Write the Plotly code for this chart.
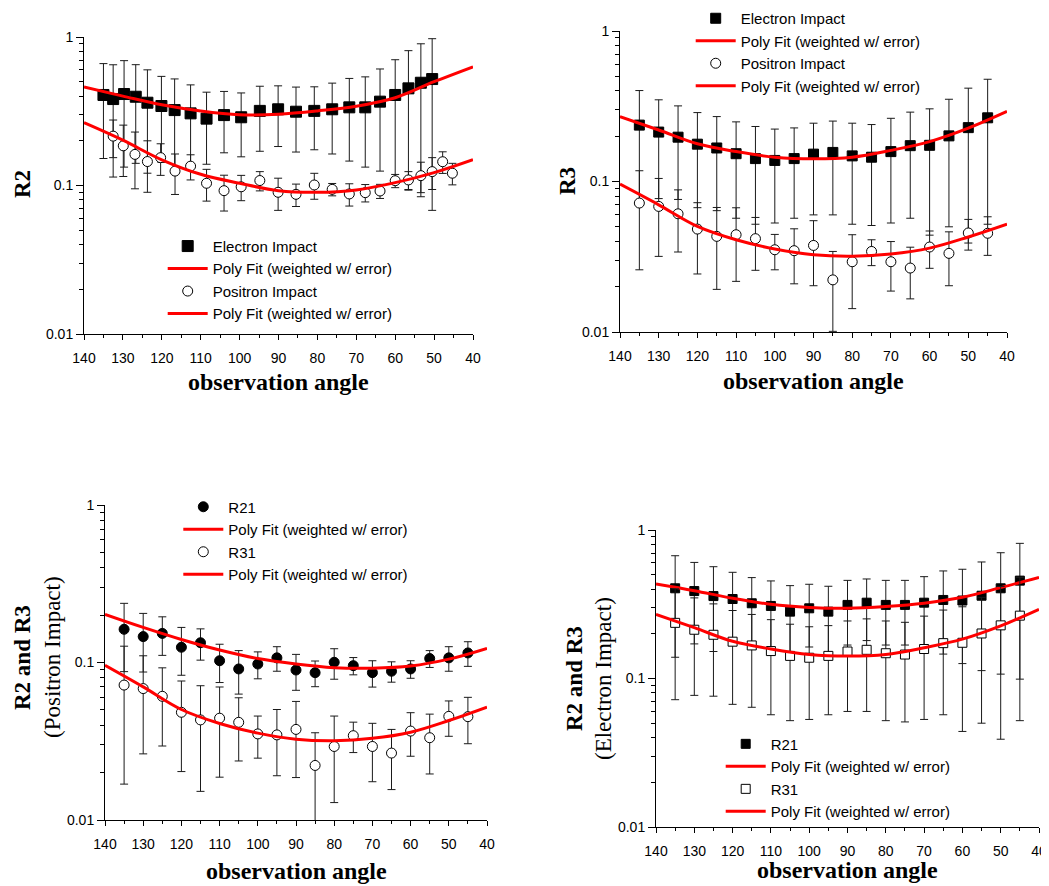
import plotly.graph_objects as go

# ---------------- data ----------------
p1_e_angle = [135, 132.5, 129.7, 126.7, 123.7, 120.1, 116.7, 112.6, 108.5, 104.0, 99.6, 94.8,
              90.1, 85.5, 80.8, 76.2, 71.8, 67.7, 63.9, 60.0, 56.6, 53.4, 50.5]
p1_e_val = [0.407, 0.382, 0.413, 0.396, 0.361, 0.343, 0.322, 0.306, 0.282, 0.298, 0.288, 0.318,
            0.326, 0.314, 0.318, 0.326, 0.336, 0.336, 0.367, 0.407, 0.451, 0.492, 0.521]
p1_e_err = [0.255, 0.268, 0.28, 0.255, 0.24, 0.2, 0.2, 0.17, 0.143, 0.132, 0.132, 0.148,
            0.143, 0.146, 0.144, 0.163, 0.19, 0.203, 0.242, 0.296, 0.358, 0.408, 0.453]
p1_p_angle = [132.5, 129.9, 126.9, 123.7, 120.3, 116.6, 112.6, 108.5, 104.0, 99.6, 94.8, 90.1,
              85.5, 80.8, 76.2, 71.8, 67.7, 63.9, 60.0, 56.6, 53.4, 50.5, 47.8, 45.3]
p1_p_val = [0.215, 0.185, 0.162, 0.145, 0.154, 0.125, 0.135, 0.1035, 0.0923, 0.098, 0.108, 0.090,
            0.0872, 0.1008, 0.0942, 0.0877, 0.0895, 0.0918, 0.1077, 0.109, 0.1165, 0.124, 0.1446, 0.121]
p1_p_err = [0.061, 0.07, 0.067, 0.055, 0.037, 0.038, 0.026, 0.025, 0.025, 0.019, 0.016, 0.022,
            0.015, 0.02, 0.009, 0.015, 0.012, 0.01, 0.011, 0.015, 0.027, 0.03, 0.024, 0.02]

angles = [135, 130, 125, 120, 115, 110, 105, 100, 95, 90, 85, 80, 75, 70, 65, 60, 55, 50, 45]

p2_e_val = [0.237, 0.213, 0.197, 0.177, 0.167, 0.153, 0.142, 0.138, 0.142, 0.152, 0.156, 0.148,
            0.145, 0.158, 0.173, 0.174, 0.201, 0.228, 0.265]
p2_e_err = [0.165, 0.136, 0.121, 0.11, 0.103, 0.096, 0.09, 0.085, 0.085, 0.092, 0.096, 0.096,
            0.094, 0.105, 0.116, 0.13, 0.151, 0.189, 0.213]
p2_p_val = [0.0719, 0.0683, 0.0610, 0.0483, 0.0432, 0.0443, 0.0417, 0.0352, 0.0347, 0.0376, 0.0222,
            0.0293, 0.0343, 0.0293, 0.0266, 0.0367, 0.0333, 0.0455, 0.0453]
p2_p_err = [0.046, 0.0365, 0.027, 0.024, 0.024, 0.0226, 0.016, 0.0093, 0.0138, 0.0173, 0.0121,
            0.015, 0.0067, 0.0106, 0.01, 0.0102, 0.013, 0.0105, 0.013]

p3_r21_val = [0.1625, 0.146, 0.153, 0.125, 0.1335, 0.1026, 0.091, 0.0978, 0.107, 0.0896, 0.0862,
              0.1003, 0.0955, 0.0862, 0.088, 0.091, 0.106, 0.107, 0.115]
p3_r21_err = [0.075, 0.059, 0.042, 0.042, 0.03, 0.028, 0.028, 0.019, 0.019, 0.023, 0.016, 0.022,
              0.012, 0.0164, 0.013, 0.0116, 0.013, 0.019, 0.0205]
p3_r31_val = [0.0719, 0.0683, 0.0610, 0.0483, 0.0432, 0.0443, 0.0417, 0.0352, 0.0347, 0.0376, 0.0222,
              0.0293, 0.0343, 0.0293, 0.0266, 0.0367, 0.0333, 0.0455, 0.0453]
p3_r31_err = [0.055, 0.042, 0.0315, 0.028, 0.028, 0.0256, 0.018, 0.0105, 0.0156, 0.019, 0.0136,
              0.0164, 0.0075, 0.0118, 0.011, 0.0113, 0.0137, 0.0115, 0.0148]

p4_r21_val = [0.405, 0.388, 0.359, 0.343, 0.321, 0.308, 0.282, 0.297, 0.282, 0.313, 0.324, 0.313,
              0.313, 0.324, 0.338, 0.335, 0.361, 0.405, 0.456]
p4_r21_err = [0.266, 0.217, 0.207, 0.176, 0.157, 0.146, 0.14, 0.134, 0.136, 0.145, 0.144, 0.145,
              0.145, 0.161, 0.192, 0.209, 0.248, 0.298, 0.357]
p4_r31_val = [0.237, 0.213, 0.197, 0.177, 0.167, 0.153, 0.142, 0.138, 0.142, 0.152, 0.156, 0.148,
              0.145, 0.158, 0.173, 0.174, 0.201, 0.228, 0.265]
p4_r31_err = [0.165, 0.136, 0.121, 0.11, 0.103, 0.096, 0.09, 0.085, 0.085, 0.092, 0.096, 0.096,
              0.094, 0.105, 0.116, 0.13, 0.151, 0.189, 0.213]

fit_angle = [140, 130, 120, 110, 100, 90, 80, 70, 60, 50, 40]
p1_fit_e = [0.46, 0.40, 0.35, 0.318, 0.30, 0.302, 0.318, 0.342, 0.39, 0.50, 0.63]
p1_fit_p = [0.265, 0.202, 0.149, 0.119, 0.1035, 0.0923, 0.090, 0.0934, 0.1045, 0.122, 0.149]
p2_fit_e = [0.270, 0.22, 0.178, 0.158, 0.145, 0.1415, 0.145, 0.161, 0.184, 0.226, 0.292]
p2_fit_p = [0.096, 0.070, 0.0503, 0.041, 0.0356, 0.0326, 0.0319, 0.033, 0.0361, 0.0428, 0.0521]
p3_fit_r21 = [0.202, 0.167, 0.140, 0.12, 0.106, 0.0978, 0.0927, 0.092, 0.095, 0.105, 0.123]
p3_fit_r31 = [0.096, 0.070, 0.0503, 0.041, 0.0356, 0.0326, 0.0319, 0.033, 0.0361, 0.0428, 0.0521]
p4_fit_r21 = [0.433, 0.39, 0.347, 0.316, 0.301, 0.297, 0.305, 0.321, 0.352, 0.409, 0.48]
p4_fit_r31 = [0.270, 0.22, 0.178, 0.158, 0.145, 0.1415, 0.145, 0.161, 0.184, 0.226, 0.292]

x_ticks = [140, 130, 120, 110, 100, 90, 80, 70, 60, 50, 40]
x_minor = [135, 125, 115, 105, 95, 85, 75, 65, 55, 45]
y_ticks = [0.01, 0.1, 1]
y_ticktext = ["0.01", "0.1", "1"]
y_minor = [0.02, 0.03, 0.04, 0.05, 0.06, 0.07, 0.08, 0.09, 0.2, 0.3, 0.4, 0.5, 0.6, 0.7, 0.8, 0.9]

fit_label = "Poly Fit (weighted w/ error)"

# ---------------- layout geometry ----------------
W, H = 1049, 886
OFF = 8  # page body margin: screen position = figure position + OFF

def px_x(sx):
    return (sx - OFF) / W
def px_y(sy):
    return 1 - (sy - OFF) / H
def xd(a, b):
    return [px_x(a), px_x(b)]
def yd(top, bottom):
    return [px_y(bottom), px_y(top)]

panels = [
    dict(xdom=xd(84, 473), ydom=yd(37, 334)),
    dict(xdom=xd(620, 1007), ydom=yd(31, 332)),
    dict(xdom=xd(105, 487), ydom=yd(505, 820)),
    dict(xdom=xd(656, 1039), ydom=yd(530, 827)),
]

fig = go.Figure()

SANS = "Arial, Liberation Sans, sans-serif"
TICKFONT = dict(family=SANS, size=14, color="black")
SERIF = "Times New Roman, Liberation Serif, serif"
RED = "#ff0000"

def err(vals):
    return dict(type="data", array=vals, visible=True, color="#1a1a1a", thickness=1, width=4)

def add_data(i, x, y, e, name, symbol, fill, size=10):
    ax = "" if i == 1 else str(i)
    fig.add_trace(go.Scatter(
        x=x, y=y, error_y=err(e), mode="markers", name=name,
        marker=dict(symbol=symbol, size=size, color=fill, line=dict(color="black", width=1)),
        xaxis="x" + ax, yaxis="y" + ax, legend="legend" + ax))

def add_fit(i, y):
    ax = "" if i == 1 else str(i)
    fig.add_trace(go.Scatter(
        x=fit_angle, y=y, mode="lines", name=fit_label,
        line=dict(color=RED, width=3, shape="spline", smoothing=1.0),
        xaxis="x" + ax, yaxis="y" + ax, legend="legend" + ax))

add_data(1, p1_e_angle, p1_e_val, p1_e_err, "Electron Impact", "square", "black", size=11)
add_fit(1, p1_fit_e)
add_data(1, p1_p_angle, p1_p_val, p1_p_err, "Positron Impact", "circle", "white")
add_fit(1, p1_fit_p)
add_data(2, angles, p2_e_val, p2_e_err, "Electron Impact", "square", "black")
add_fit(2, p2_fit_e)
add_data(2, angles, p2_p_val, p2_p_err, "Positron Impact", "circle", "white")
add_fit(2, p2_fit_p)
add_data(3, angles, p3_r21_val, p3_r21_err, "R21", "circle", "black")
add_fit(3, p3_fit_r21)
add_data(3, angles, p3_r31_val, p3_r31_err, "R31", "circle", "white")
add_fit(3, p3_fit_r31)
add_data(4, angles, p4_r21_val, p4_r21_err, "R21", "square", "black", size=9)
add_fit(4, p4_fit_r21)
add_data(4, angles, p4_r31_val, p4_r31_err, "R31", "square", "white", size=9)
add_fit(4, p4_fit_r31)

layout = dict(
    width=W, height=H, margin=dict(l=0, r=0, t=0, b=0, pad=0, autoexpand=False),
    autosize=False,
    paper_bgcolor="white", plot_bgcolor="white", showlegend=True,
)

# (left edge, top edge) of each legend box in screen pixels
legend_pos = [(162.7, 229.8), (690.7, 2.0), (178.3, 490.5), (720.7, 727.6)]

for i, p in enumerate(panels, start=1):
    ax = "" if i == 1 else str(i)
    layout["xaxis" + ax] = dict(
        domain=p["xdom"], anchor="y" + ax, range=[140, 40], tickvals=x_ticks,
        ticks="outside", ticklen=5, tickwidth=1, tickcolor="black",
        minor=dict(tickvals=x_minor, ticks="outside", ticklen=3, tickcolor="black", tickwidth=1),
        showline=True, linecolor="black", linewidth=1, showgrid=False, zeroline=False,
        tickfont=TICKFONT, ticklabelstandoff=6, automargin=False,
    )
    layout["yaxis" + ax] = dict(
        domain=p["ydom"], anchor="x" + ax, type="log", range=[-2, 0],
        tickvals=y_ticks, ticktext=y_ticktext,
        ticks="outside", ticklen=7, tickwidth=1, tickcolor="black",
        minor=dict(tickvals=y_minor, ticks="outside", ticklen=4, tickcolor="black", tickwidth=1),
        showline=True, linecolor="black", linewidth=1, showgrid=False, zeroline=False,
        tickfont=TICKFONT, automargin=False,
    )
    lx, ly = legend_pos[i - 1]
    layout["legend" + ax] = dict(
        x=px_x(lx), y=px_y(ly), xanchor="left", yanchor="top",
        bgcolor="rgba(0,0,0,0)", borderwidth=0, itemwidth=40,
        font=dict(family=SANS, size=15, color="black"),
        tracegroupgap=0,
    )

fig.update_layout(**layout)

def ann(text, x, y, size, angle=0, bold=True):
    fig.add_annotation(
        text=("<b>%s</b>" % text) if bold else text, x=px_x(x), y=px_y(y),
        xref="paper", yref="paper", showarrow=False, textangle=angle,
        xanchor="center", yanchor="middle",
        font=dict(family=SERIF, size=size, color="black"))

ann("observation angle", 278.5, 382, 24)
ann("observation angle", 813.5, 381, 24)
ann("observation angle", 296, 871, 24)
ann("observation angle", 847.5, 870, 24)
ann("R2", 23, 184, 23, -90)
ann("R3", 568, 181, 23, -90)
ann("R2 and R3", 22, 658, 23, -90)
ann("(Positron Impact)", 52, 657, 23, -90, bold=False)
ann("R2 and R3", 574, 679, 23, -90)
ann("(Electron Impact)", 603, 679, 23, -90, bold=False)

fig.write_html("out.html")
